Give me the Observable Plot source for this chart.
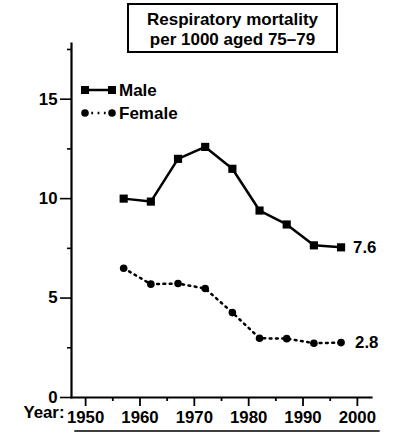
<!DOCTYPE html>
<html>
<head>
<meta charset="utf-8">
<script src="https://cdn.jsdelivr.net/npm/d3@7"></script>
<script src="https://cdn.jsdelivr.net/npm/@observablehq/plot@0.6"></script>
<style>
  html, body { margin: 0; padding: 0; background: #fff; }
  #wrap { position: relative; width: 397px; height: 432px; font-family: "Liberation Sans", Arial, sans-serif; }
  #title { position: absolute; left: 127px; top: 3px; width: 211px; height: 50px; box-sizing: border-box;
           border: 2px solid #000; background: #fff; text-align: center; font-weight: bold; font-size: 17px;
           line-height: 20px; padding-top: 5px; color: #000; z-index: 2; }
  #overlay { position: absolute; left: 0; top: 0; z-index: 3; pointer-events: none; }
</style>
</head>
<body>
<div id="wrap"></div>
<script>
const years = [1957, 1962, 1967, 1972, 1977, 1982, 1987, 1992, 1997];
const male = [10.0, 9.85, 12.0, 12.6, 11.5, 9.4, 8.7, 7.65, 7.55];
const female = [6.5, 5.7, 5.73, 5.48, 4.27, 2.98, 2.96, 2.73, 2.76];
const seriesNames = ["Male", "Female"];
const endLabels = ["7.6", "2.8"];
const yMajorTicks = [0, 5, 10, 15];
const yMinorTicks = [2.5, 7.5, 12.5, 17.5];
const xMajorTicks = [1950, 1960, 1970, 1980, 1990, 2000];
const xMinorTicks = [1955, 1965, 1975, 1985, 1995];
const titleLines = ["Respiratory mortality", "per 1000 aged 75\u201379"];

const maleData = years.map((y, i) => ({year: y, value: male[i]}));
const femaleData = years.map((y, i) => ({year: y, value: female[i]}));
const lastIdx = years.length - 1;

const font = {fontSize: 16.8, fontWeight: "bold"};

const plot = Plot.plot({
  width: 397,
  height: 432,
  marginLeft: 71,
  marginRight: 26,
  marginTop: 43,
  marginBottom: 35,
  style: {fontFamily: "'Liberation Sans', Arial, sans-serif", color: "#000", background: "#fff", overflow: "visible"},
  x: {domain: [1947.4, 2002.6], label: null},
  y: {domain: [0, 17.8], label: null},
  marks: [
    Plot.frame({anchor: "left", strokeWidth: 2.2, stroke: "#000"}),
    Plot.frame({anchor: "bottom", strokeWidth: 2.2, stroke: "#000"}),
    Plot.axisY({ticks: yMajorTicks, label: null, tickSize: 11, tickPadding: 3, strokeWidth: 1.6, tickFormat: d => String(d), ...font}),
    Plot.axisY({ticks: yMinorTicks, label: null, tickSize: 4, strokeWidth: 1.6, tickFormat: () => ""}),
    Plot.axisX({ticks: xMajorTicks, label: null, tickSize: 9, tickPadding: 5, strokeWidth: 1.8, tickFormat: d => String(d), ...font}),
    Plot.axisX({ticks: xMinorTicks, label: null, tickSize: 4, strokeWidth: 1.8, tickFormat: () => ""}),
    Plot.text(["Year:"], {frameAnchor: "bottom-left", dx: -7, dy: 20.5, textAnchor: "end", ...font, fill: "#000"}),
    Plot.ruleY([0], {dy: 33.5, x1: 1948, x2: 2004.2, stroke: "#000", strokeWidth: 1.5}),
    Plot.line(maleData, {x: "year", y: "value", stroke: "#000", strokeWidth: 2.5}),
    Plot.dot(maleData, {x: "year", y: "value", symbol: "square", r: 4.6, fill: "#000", stroke: "none"}),
    Plot.line(femaleData, {x: "year", y: "value", stroke: "#000", strokeWidth: 2.5, strokeDasharray: "1.8,4.5"}),
    Plot.dot(femaleData, {x: "year", y: "value", symbol: "circle", r: 3.8, fill: "#000", stroke: "none"}),
    Plot.text([maleData[lastIdx]], {x: "year", y: "value", text: () => endLabels[0], dx: 12, textAnchor: "start", ...font, fill: "#000"}),
    Plot.text([femaleData[lastIdx]], {x: "year", y: "value", text: () => endLabels[1], dx: 14, textAnchor: "start", ...font, fill: "#000"})
  ]
});

const wrap = document.getElementById("wrap");
wrap.appendChild(plot);

const title = document.createElement("div");
title.id = "title";
title.innerHTML = titleLines.join("<br>");
wrap.appendChild(title);

// Legend overlay
const ov = d3.select(wrap).append("svg").attr("id", "overlay").attr("width", 397).attr("height", 432);
const legendRows = [
  {name: seriesNames[0], y: 90, dash: null, sym: "square"},
  {name: seriesNames[1], y: 113, dash: "1.8,4.5", sym: "circle"}
];
for (const r of legendRows) {
  const g = ov.append("g");
  g.append("line").attr("x1", 85).attr("x2", 112).attr("y1", r.y).attr("y2", r.y)
    .attr("stroke", "#000").attr("stroke-width", 2.5).attr("stroke-dasharray", r.dash);
  for (const cx of [85, 112]) {
    if (r.sym === "square") g.append("rect").attr("x", cx - 4).attr("y", r.y - 4).attr("width", 8).attr("height", 8).attr("fill", "#000");
    else g.append("circle").attr("cx", cx).attr("cy", r.y).attr("r", 3.8).attr("fill", "#000");
  }
  g.append("text").attr("x", 119).attr("y", r.y).attr("dy", "0.35em")
    .attr("font-family", "'Liberation Sans', Arial, sans-serif").attr("font-weight", "bold").attr("font-size", 17)
    .attr("fill", "#000").text(r.name);
}
</script>
</body>
</html>
